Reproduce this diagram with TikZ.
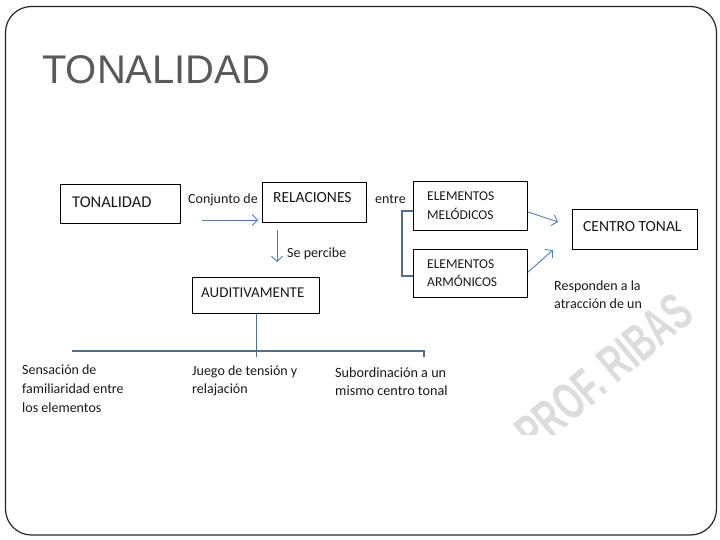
\documentclass[tikz,border=0pt]{standalone}
\usepackage{fontspec}
\setmainfont{Carlito}
\newfontfamily\arialf{Liberation Sans}
\usetikzlibrary{arrows.meta,calc}
\definecolor{arrowblue}{HTML}{4F7FB8}
\definecolor{linegrey}{HTML}{4F6F8C}
\definecolor{titlegrey}{HTML}{5A5A5A}
\definecolor{wmgrey}{HTML}{DCDCDC}
\tikzset{
  boxnode/.style={draw=black, line width=1.1pt, anchor=north west, inner sep=0pt},
  txt/.style={anchor=base west, inner sep=0pt, text=black!90},
  bigtxt/.style={txt, font=\fontsize{15.5}{18}\selectfont},
  midtxt/.style={txt, font=\fontsize{13.5}{16}\selectfont},
  smalltxt/.style={txt, font=\fontsize{14}{17}\selectfont},
  arr/.style={draw=arrowblue, line width=0.9pt, -{Straight Barb[length=5pt,width=11pt,line width=0.9pt]}},
  tree/.style={draw=linegrey, line width=1.1pt},
}
\begin{document}
\begin{tikzpicture}[x=1pt,y=-1pt]
\useasboundingbox (0,0) rectangle (720,540);
% slide frame
\draw[line width=1.2pt, draw=black!85, rounded corners=26pt] (5.5,6.5) rectangle (716.5,535);
% title
\node[anchor=base west, inner sep=0pt, text=titlegrey, font=\arialf\fontsize{40}{44}\selectfont] (title) at (42,84) {TONALIDAD};
% watermark (clipped)
\begin{scope}
\clip (470,250) rectangle (716,434);
\node[inner sep=0pt, text=wmgrey, font=\arialf\bfseries\fontsize{52}{52}\selectfont, rotate=40, xscale=0.64] (wm) at (604,372) {PROF. RIBAS};
\end{scope}
% boxes
\node[boxnode, minimum width=120pt, minimum height=39pt] (ton) at (60,184) {};
\node[bigtxt, font=\fontsize{16.5}{19}\selectfont] (tont) at (72,207.5) {TONALIDAD};
\node[boxnode, minimum width=104pt, minimum height=40pt] (rel) at (262,182) {};
\node[bigtxt] (relt) at (273,203) {RELACIONES};
\node[boxnode, minimum width=114pt, minimum height=49pt] (mel) at (413,181) {};
\node[midtxt] (mel1) at (427,201) {ELEMENTOS};
\node[midtxt] (mel2) at (427,219) {MELÓDICOS};
\node[boxnode, minimum width=114pt, minimum height=48pt] (arm) at (413,249) {};
\node[midtxt] (arm1) at (427,268) {ELEMENTOS};
\node[midtxt] (arm2) at (427,286) {ARMÓNICOS};
\node[boxnode, minimum width=125pt, minimum height=40pt] (cen) at (572,209) {};
\node[bigtxt] (cent) at (583,231.5) {CENTRO TONAL};
\node[boxnode, minimum width=127pt, minimum height=36pt] (aud) at (192,277) {};
\node[bigtxt, font=\fontsize{15}{18}\selectfont] (audt) at (201,297) {AUDITIVAMENTE};
% labels
\node[smalltxt] (conj) at (188,204) {Conjunto de};
\node[smalltxt] (entre) at (375,204) {entre};
\node[smalltxt] (perc) at (287,257) {Se percibe};
\node[smalltxt] (resp1) at (554,290) {Responden a la};
\node[smalltxt] (resp2) at (554,308) {atracción de un};
\node[smalltxt] (l1a) at (22,374) {Sensación de};
\node[smalltxt] (l1b) at (22,393) {familiaridad entre};
\node[smalltxt] (l1c) at (22,412) {los elementos};
\node[smalltxt] (l2a) at (192,375) {Juego de tensión y};
\node[smalltxt] (l2b) at (192,393) {relajación};
\node[smalltxt, font=\fontsize{14.2}{17}\selectfont] (l3a) at (335,377) {Subordinación a un};
\node[smalltxt, font=\fontsize{14.2}{17}\selectfont] (l3b) at (335,395) {mismo centro tonal};
% arrows
\coordinate (c1) at (202,220);
\coordinate (c2) at (258,220);
\draw[arr] (c1) -- (c2);
\coordinate (p1) at (277,230);
\coordinate (p2) at (277,262);
\draw[arr] (p1) -- (p2);
\coordinate (m2) at (558,222);
\draw[arr] (mel.east |- 0,212) -- (m2);
\coordinate (a2) at (553,250);
\draw[arr] (arm.east |- 0,272) -- (a2);
% bracket
\draw[tree] (mel.west |- 0,211) -- ++(-11,0) |- (arm.west |- 0,276);
% tree under AUDITIVAMENTE
\coordinate (tl) at (72,351);
\coordinate (tr) at (424,351);
\draw[tree] (aud.south) -- (aud.south |- 0,357);
\draw[tree] (tl) -- (tr) -- ++(0,6);
\end{tikzpicture}
\end{document}
